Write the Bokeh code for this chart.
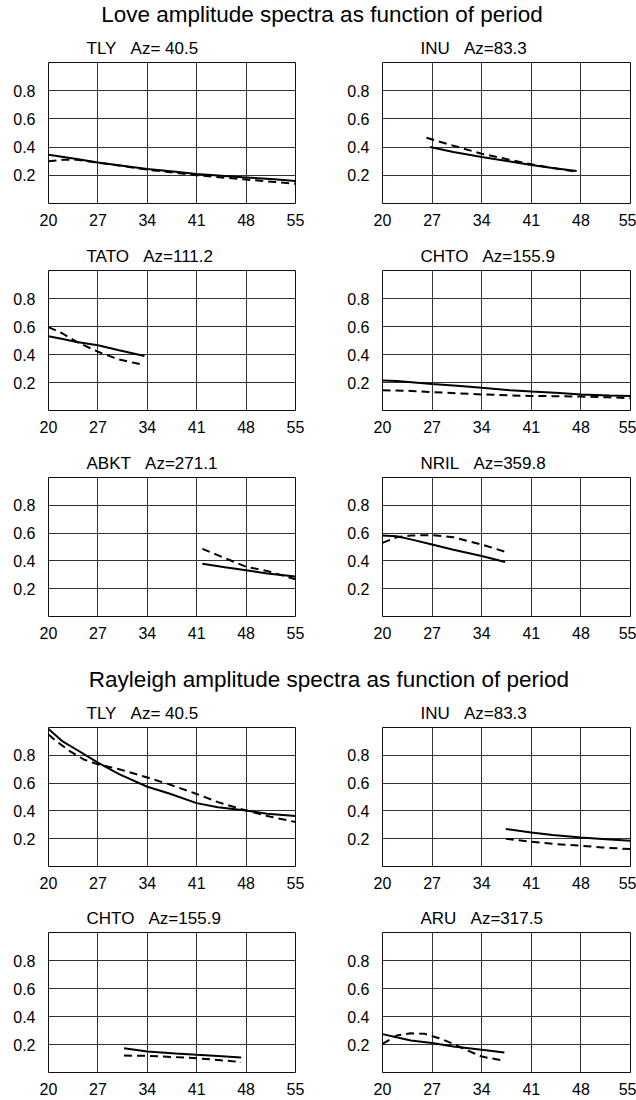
from bokeh.plotting import figure
from bokeh.models import Range1d, FixedTicker, Div
from bokeh.layouts import column, row
from bokeh.embed import file_html
from bokeh.resources import INLINE

FONT = "Liberation Sans"
SP = "\u00a0\u00a0\u00a0"

# ---------------- data ----------------
x_ticks = [20, 27, 34, 41, 48, 55]
y_ticks = [0.2, 0.4, 0.6, 0.8]

love_title = "Love amplitude spectra as function of period"
rayleigh_title = "Rayleigh amplitude spectra as function of period"

# Love TLY
love_tly_xs = [20, 24, 27, 31, 34, 38, 41, 45, 48, 52, 55]
love_tly_ys = [0.345, 0.315, 0.29, 0.265, 0.245, 0.225, 0.21, 0.195, 0.185, 0.172, 0.16]
love_tly_xd = [20, 22, 24, 27, 31, 34, 38, 41, 45, 48, 52, 55]
love_tly_yd = [0.30, 0.31, 0.31, 0.29, 0.262, 0.24, 0.218, 0.20, 0.183, 0.17, 0.153, 0.14]

# Love INU
love_inu_xs = [26.7, 30, 34, 38, 41, 44, 47.4]
love_inu_ys = [0.40, 0.365, 0.33, 0.298, 0.273, 0.252, 0.23]
love_inu_xd = [26.2, 30, 34, 38, 41, 44, 47.4]
love_inu_yd = [0.466, 0.41, 0.353, 0.31, 0.278, 0.252, 0.226]

# Love TATO
love_tato_xs = [20, 22, 24, 27, 30, 33.6]
love_tato_ys = [0.53, 0.51, 0.49, 0.466, 0.43, 0.39]
love_tato_xd = [20, 22, 24, 27, 30, 33.6]
love_tato_yd = [0.596, 0.55, 0.49, 0.42, 0.364, 0.324]

# Love CHTO
love_chto_xs = [20, 22, 27, 31, 34, 38, 41, 45, 48, 52, 55]
love_chto_ys = [0.215, 0.21, 0.19, 0.175, 0.163, 0.145, 0.135, 0.125, 0.115, 0.108, 0.104]
love_chto_xd = [20, 24, 27, 31, 34, 38, 41, 45, 48, 52, 55]
love_chto_yd = [0.144, 0.14, 0.132, 0.122, 0.115, 0.108, 0.104, 0.102, 0.10, 0.094, 0.088]

# Love ABKT
love_abkt_xs = [41.8, 45, 48, 51, 55]
love_abkt_ys = [0.38, 0.355, 0.332, 0.31, 0.287]
love_abkt_xd = [41.8, 45, 48, 51, 55]
love_abkt_yd = [0.487, 0.42, 0.358, 0.327, 0.268]

# Love NRIL
love_nril_xs = [20, 22, 24, 27, 30, 34, 37.3]
love_nril_ys = [0.583, 0.578, 0.555, 0.518, 0.48, 0.435, 0.392]
love_nril_xd = [20, 22, 24, 27, 30, 34, 37.3]
love_nril_yd = [0.53, 0.57, 0.583, 0.585, 0.57, 0.518, 0.466]

# Rayleigh TLY
ray_tly_xs = [20, 22, 24, 27, 30, 34, 37, 41, 44, 48, 51, 55]
ray_tly_ys = [0.99, 0.90, 0.84, 0.747, 0.664, 0.574, 0.527, 0.456, 0.427, 0.403, 0.38, 0.363]
ray_tly_xd = [20, 21, 23, 25, 27, 30, 34, 37, 41, 44, 48, 51, 55]
ray_tly_yd = [0.95, 0.906, 0.83, 0.77, 0.735, 0.70, 0.64, 0.593, 0.522, 0.463, 0.403, 0.363, 0.32]

# Rayleigh INU
ray_inu_xs = [37.4, 41, 44, 48, 51, 55]
ray_inu_ys = [0.27, 0.245, 0.226, 0.209, 0.197, 0.185]
ray_inu_xd = [37.4, 41, 44, 48, 51, 55]
ray_inu_yd = [0.20, 0.178, 0.163, 0.149, 0.137, 0.125]

# Rayleigh CHTO
ray_chto_xs = [30.7, 34, 38, 41, 44, 47.3]
ray_chto_ys = [0.174, 0.15, 0.136, 0.126, 0.117, 0.107]
ray_chto_xd = [30.7, 34, 38, 41, 44, 47.3]
ray_chto_yd = [0.121, 0.119, 0.11, 0.102, 0.09, 0.074]

# Rayleigh ARU
ray_aru_xs = [20, 24, 27, 30, 34, 37.2]
ray_aru_ys = [0.274, 0.229, 0.21, 0.186, 0.162, 0.143]
ray_aru_xd = [20, 22, 24, 26, 28, 30, 32, 34, 37.2]
ray_aru_yd = [0.205, 0.264, 0.28, 0.276, 0.245, 0.205, 0.157, 0.114, 0.083]


def panel(title, xs, ys, xd, yd, left, height, top, bottom):
    if left:
        bl, br = 48, 23
    else:
        bl, br = 64, 6
    p = figure(width=318, height=height, output_backend="svg", toolbar_location=None,
               x_range=Range1d(20, 55), y_range=Range1d(0, 1),
               min_border_left=bl, min_border_right=br,
               min_border_top=top, min_border_bottom=bottom,
               title=title)
    p.title.text_font = FONT
    p.title.text_font_size = "17px"
    p.title.text_font_style = "normal"
    p.title.text_color = "black"
    p.title.align = "left"
    p.title.offset = 38
    p.title.standoff = 10
    p.outline_line_color = "#111111"
    p.outline_line_width = 1
    p.background_fill_color = "white"
    p.border_fill_color = "white"

    p.xaxis.ticker = FixedTicker(ticks=x_ticks)
    p.yaxis.ticker = FixedTicker(ticks=y_ticks)
    p.xgrid.ticker = FixedTicker(ticks=x_ticks[1:-1])
    p.ygrid.ticker = FixedTicker(ticks=y_ticks)
    for g in (p.xgrid, p.ygrid):
        g.grid_line_color = "#333333"
        g.grid_line_width = 1
        g.grid_line_alpha = 1.0
    for ax in (p.xaxis, p.yaxis):
        ax.axis_line_color = None
        ax.major_tick_line_color = None
        ax.minor_tick_line_color = None
        ax.major_tick_out = 0
        ax.major_tick_in = 0
        ax.major_label_text_font = FONT
        ax.major_label_text_font_size = "16px"
        ax.major_label_text_color = "black"
    p.xaxis.major_label_standoff = 10
    p.yaxis.major_label_standoff = 13

    p.line(xs, ys, line_color="black", line_width=2)
    p.line(xd, yd, line_color="black", line_width=2, line_dash="8 5")
    return p


def section(text, height, dy, dx):
    html = f'<span style="position:relative; top:{dy}px; left:{dx}px">{text}</span>'
    return Div(text=html, width=636, height=height,
               styles={"font-family": FONT, "font-size": "22.5px", "text-align": "center",
                       "line-height": f"{height}px", "color": "black", "width": "636px",
                       "margin": "0", "padding": "0"})


d1 = section(love_title, 26, 2, 4)
r1 = row(panel("TLY" + SP + "Az= 40.5", love_tly_xs, love_tly_ys, love_tly_xd, love_tly_yd, True, 208, 36, 31),
         panel("INU" + SP + "Az=83.3", love_inu_xs, love_inu_ys, love_inu_xd, love_inu_yd, False, 208, 36, 31))
r2 = row(panel("TATO" + SP + "Az=111.2", love_tato_xs, love_tato_ys, love_tato_xd, love_tato_yd, True, 207, 36, 31),
         panel("CHTO" + SP + "Az=155.9", love_chto_xs, love_chto_ys, love_chto_xd, love_chto_yd, False, 207, 36, 31))
r3 = row(panel("ABKT" + SP + "Az=271.1", love_abkt_xs, love_abkt_ys, love_abkt_xd, love_abkt_yd, True, 206, 36, 31),
         panel("NRIL" + SP + "Az=359.8", love_nril_xs, love_nril_ys, love_nril_xd, love_nril_yd, False, 206, 36, 31))
d2 = section(rayleigh_title, 44, 11, 11)
r4 = row(panel("TLY" + SP + "Az= 40.5", ray_tly_xs, ray_tly_ys, ray_tly_xd, ray_tly_yd, True, 205, 36, 30),
         panel("INU" + SP + "Az=83.3", ray_inu_xs, ray_inu_ys, ray_inu_xd, ray_inu_yd, False, 205, 36, 30))
r5 = row(panel("CHTO" + SP + "Az=155.9", ray_chto_xs, ray_chto_ys, ray_chto_xd, ray_chto_yd, True, 204, 36, 28),
         panel("ARU" + SP + "Az=317.5", ray_aru_xs, ray_aru_ys, ray_aru_xd, ray_aru_yd, False, 204, 36, 28))

layout = column(d1, r1, r2, r3, d2, r4, r5)

open("out.html", "w").write(file_html(layout, INLINE))
